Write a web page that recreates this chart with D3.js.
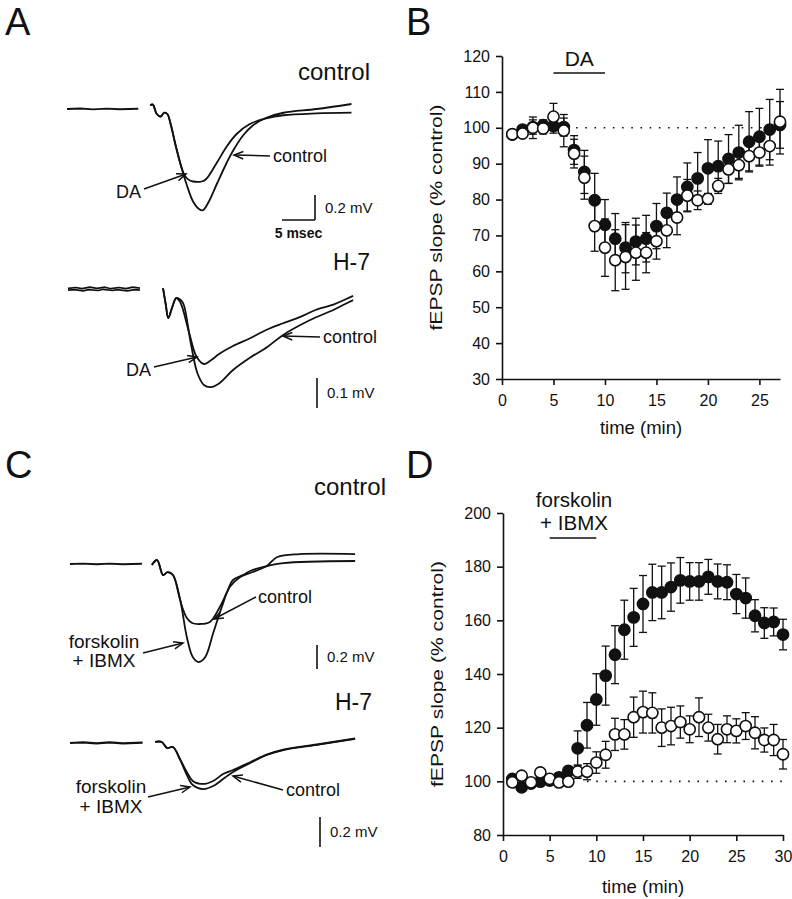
<!DOCTYPE html>
<html><head><meta charset="utf-8">
<script src="https://cdn.jsdelivr.net/npm/d3@7"></script>
<style>
body{margin:0;background:#fff}
svg{display:block}
text{font-family:"Liberation Sans",Arial,Helvetica,sans-serif;fill:#111}
</style>
</head><body>
<svg id="fig" width="792" height="899"></svg>
<script>
// ---------------- DATA ----------------
// Panel B: fEPSP slope (% control) vs time (min), DA applied 5-10 min
const timeB = [1,2,3,4,5,6,7,8,9,10,11,12,13,14,15,16,17,18,19,20,21,22,23,24,25,26,27];
const filledB = [98.1,99.5,100.2,100.7,100.5,100.2,93.8,87.7,79.8,73.0,69.1,66.6,68.3,69.1,72.6,76.3,80.0,83.5,85.9,88.7,89.3,91.3,93.1,96.1,97.5,99.5,100.8];
const filledBErr = [1,1,2,1.5,2,2.5,4,6,7.5,7,7,7,6.5,6.5,6.3,5.5,6.3,6.7,7.2,8,7,6.8,7.6,8.4,7.9,8.4,6.5];
const openB = [98.2,98.4,100.0,99.8,103.1,99.2,92.8,86.1,72.6,66.6,63.1,64.0,65.2,65.2,68.4,71.4,75.0,81.1,79.8,80.2,83.8,88.4,89.6,92.1,93.1,94.9,101.7];
const openBErr = [1,1,3,1.5,3.7,4.5,4,6,7,8,8.5,9,7.7,5.6,5,4.8,4.8,4.5,2.6,1.5,2.1,3.9,3.7,4.1,3.8,5.3,9];
const xTicksB = [0,5,10,15,20,25];
const yTicksB = [30,40,50,60,70,80,90,100,110,120];
const drugB = {label:"DA", from:5, to:10};

// Panel D: forskolin + IBMX applied 5-10 min
const timeD = [1,2,3,4,5,6,7,8,9,10,11,12,13,14,15,16,17,18,19,20,21,22,23,24,25,26,27,28,29,30];
const filledD = [100.9,97.8,99.2,99.9,100.3,101.5,103.9,112.3,120.9,130.5,139.4,147.2,156.5,161.1,166.1,170.4,170.4,172.4,174.9,174.5,174.5,176.2,174.5,174.2,169.8,168.3,161.7,159.0,159.4,154.7];
const filledDErr = [1.5,1.5,1.5,1.5,1.5,1.5,1.5,6.5,8.5,9.6,11,10.8,11,10.8,10.6,10.5,9.8,9,8.5,7,7,6.5,6.5,6.5,7.3,7.5,6,5.7,5.2,5.7];
const openD = [99.6,102.1,99.6,103.3,100.9,99.6,99.9,103.6,103.6,107.0,109.9,117.5,117.5,123.9,125.8,125.5,120.0,120.6,122.1,119.4,123.9,120.0,115.7,119.4,118.8,120.6,118.1,115.4,115.4,110.1];
const openDErr = [1.5,1.5,1.5,1.5,1.5,1.5,1.5,2.5,3,4,5,6,5.5,7.5,7.8,7.5,7,7,6,5,7.2,5,5.5,5,4.5,5,6,4.5,5.8,5.5];
const xTicksD = [0,5,10,15,20,25,30];
const yTicksD = [80,100,120,140,160,180,200];
const drugD = {label:["forskolin","+ IBMX"], from:5, to:10};

// Traces: [time (ms), potential (mV)]
const baseA1 = [[0,0],[2,0.004],[4,-0.003],[6,0.003],[8,-0.002],[10.8,0.002]];
const traceA1Control = [[12.6,0.03],[13.0,0.035],[13.6,-0.04],[14.2,-0.06],[14.7,-0.03],[15.2,-0.04],[15.7,-0.12],[16.5,-0.3],[17.3,-0.46],[18.1,-0.6],[19.1,-0.74],[20.0,-0.8],[20.6,-0.81],[21.4,-0.75],[22.7,-0.6],[24.2,-0.43],[25.2,-0.33],[26.7,-0.21],[28.2,-0.13],[30.2,-0.07],[32.8,-0.03],[37.8,0.0],[43.1,0.04]];
const traceA1DA = [[12.6,0.03],[13.0,0.035],[13.6,-0.04],[14.2,-0.06],[14.7,-0.03],[15.2,-0.04],[15.7,-0.12],[16.5,-0.3],[17.3,-0.46],[17.8,-0.53],[18.4,-0.565],[19.1,-0.58],[20.4,-0.58],[21.1,-0.56],[22.7,-0.43],[24.2,-0.3],[25.7,-0.2],[27.7,-0.12],[30.2,-0.075],[32.8,-0.05],[37.8,-0.035],[43.1,-0.029]];

const baseA2a = [[0,0.002],[1.2,0.005],[2.1,0.001],[3.3,0.006],[4.4,0.002],[5.6,0.006],[6.5,0.001],[7.7,0.005],[8.8,0.001],[9.8,0.006],[10.9,0.003]];
const baseA2b = [[0,-0.004],[1.0,-0.002],[2.3,-0.006],[3.1,-0.002],[4.6,-0.005],[5.3,-0.001],[6.8,-0.005],[7.4,-0.002],[9.0,-0.006],[10.1,-0.002],[10.9,-0.004]];
const traceA2DA = [[14.4,0.003],[14.8,-0.05],[15.2,-0.097],[15.8,-0.06],[16.4,-0.03],[16.9,-0.04],[17.3,-0.06],[18.4,-0.15],[19.5,-0.227],[20.6,-0.25],[21.5,-0.24],[23,-0.215],[25,-0.19],[27.5,-0.165],[30.2,-0.135],[32.5,-0.115],[35.2,-0.093],[37.5,-0.07],[40.2,-0.052],[42,-0.035],[43.2,-0.023]];
const traceA2Control = [[14.4,0.003],[14.8,-0.05],[15.2,-0.097],[15.8,-0.06],[16.4,-0.03],[17.0,-0.035],[17.5,-0.05],[18.6,-0.18],[19.6,-0.28],[20.6,-0.32],[21.6,-0.327],[23,-0.313],[25,-0.27],[27.5,-0.23],[30.2,-0.193],[32.6,-0.153],[35.2,-0.12],[37.5,-0.095],[40.2,-0.07],[42,-0.05],[43.2,-0.037]];

const baseC1 = [[0,0],[2,0.003],[4,-0.002],[6,0.003],[8,-0.002],[10.9,0.002]];
const traceC1Fsk = [[12.4,-0.008],[13.2,0.033],[14.1,-0.092],[14.8,-0.067],[15.6,-0.092],[16.7,-0.3],[17.7,-0.608],[18.6,-0.775],[19.5,-0.817],[20.5,-0.775],[21.7,-0.575],[23.0,-0.358],[24.2,-0.192],[25.8,-0.108],[27.7,-0.067],[29.8,-0.017],[31.4,0.058],[34.8,0.083],[43.2,0.083]];
const traceC1Control = [[12.4,-0.008],[13.2,0.033],[14.1,-0.092],[14.8,-0.067],[15.6,-0.092],[16.5,-0.26],[17.0,-0.358],[17.7,-0.45],[18.5,-0.492],[19.7,-0.5],[21.2,-0.483],[22.7,-0.358],[23.8,-0.233],[24.7,-0.133],[26.2,-0.092],[27.3,-0.058],[29.8,-0.017],[32.3,0.008],[43.2,0.025]];

const baseC2 = [[0,0],[2,0.004],[4,-0.003],[6,0.004],[8,-0.002],[11,0.003]];
const traceC2Fsk = [[12.9,0.007],[13.9,0.007],[14.7,-0.033],[15.6,-0.027],[16.7,-0.113],[17.7,-0.213],[18.6,-0.28],[20.2,-0.307],[21.7,-0.287],[23.2,-0.24],[24.7,-0.193],[27.3,-0.133],[29.8,-0.08],[32.3,-0.047],[37.4,-0.013],[43.2,0.027]];
const traceC2Control = [[12.9,0.007],[13.9,0.007],[14.7,-0.033],[15.6,-0.027],[16.7,-0.11],[17.7,-0.193],[18.6,-0.253],[20.2,-0.273],[21.7,-0.253],[23.2,-0.207],[24.7,-0.18],[27.3,-0.128],[29.8,-0.078],[32.3,-0.045],[37.4,-0.01],[43.2,0.03]];

// ---------------- DRAWING ----------------
const svg = d3.select("#fig");
const INK = "#111";

function panelLetter(t, x, y){
  svg.append("text").attr("x",x).attr("y",y).attr("font-size",38).text(t);
}

function arrow(x1,y1,x2,y2){
  const g = svg.append("g").attr("stroke",INK).attr("stroke-width",1.5).attr("fill","none");
  g.append("line").attr("x1",x1).attr("y1",y1).attr("x2",x2).attr("y2",y2);
  const a = Math.atan2(y1-y2, x1-x2), L = 10, w = 0.38;
  g.append("polyline").attr("points",
    [[x2+L*Math.cos(a+w), y2+L*Math.sin(a+w)],[x2,y2],[x2+L*Math.cos(a-w), y2+L*Math.sin(a-w)]].map(p=>p.join(",")).join(" "));
}

function traceGroup(x0, y0, pxPerMs, pxPerMV, sets){
  const xs = d3.scaleLinear().domain([0,1]).range([x0, x0+pxPerMs]);
  const ys = d3.scaleLinear().domain([0,-1]).range([y0, y0+pxPerMV]);
  const line = d3.line().x(d=>xs(d[0])).y(d=>ys(d[1]));
  sets.forEach(s=>{
    svg.append("path").attr("d", line.curve(s.curve||d3.curveCatmullRom.alpha(0.5))(s.data))
      .attr("fill","none").attr("stroke",INK).attr("stroke-width",s.w||1.8).attr("stroke-linejoin","round");
  });
  return {xs, ys};
}

function vScaleBar(sc, x, yTop, mv, label){
  const h = sc.ys(-mv) - sc.ys(0);
  svg.append("line").attr("x1",x).attr("x2",x).attr("y1",yTop).attr("y2",yTop+h)
    .attr("stroke",INK).attr("stroke-width",1.6);
  svg.append("text").attr("x",x+10).attr("y",yTop+h/2+5).attr("font-size",15).text(label);
  return h;
}

// ---- Panel A ----
panelLetter("A", 5, 35);
svg.append("text").attr("x",370).attr("y",80).attr("font-size",24).attr("text-anchor","end").text("control");
const scA1 = traceGroup(67, 109, 6.6, 125, [
  {data: baseA1, curve: d3.curveLinear},
  {data: traceA1Control},
  {data: traceA1DA}
]);
arrow(270,156,234,155);
svg.append("text").attr("x",273).attr("y",162).attr("font-size",18).text("control");
arrow(144,189,186,174);
svg.append("text").attr("x",141).attr("y",198).attr("font-size",18).attr("text-anchor","end").text("DA");
{
  const h = vScaleBar(scA1, 315, 195, 0.2, "0.2 mV");
  const w = scA1.xs(5) - scA1.xs(0);
  svg.append("line").attr("x1",315-w).attr("x2",315).attr("y1",195+h).attr("y2",195+h).attr("stroke",INK).attr("stroke-width",1.6);
  svg.append("text").attr("x",315-w/2).attr("y",238).attr("font-size",14).attr("font-weight","bold").attr("text-anchor","middle").text("5 msec");
}
svg.append("text").attr("x",370).attr("y",270).attr("font-size",23).attr("text-anchor","end").text("H-7");
const scA2 = traceGroup(68, 289, 6.6, 300, [
  {data: baseA2a, curve: d3.curveLinear, w:1.7},
  {data: baseA2b, curve: d3.curveLinear, w:1.7},
  {data: traceA2DA},
  {data: traceA2Control}
]);
arrow(320,337,283,336);
svg.append("text").attr("x",323).attr("y",343).attr("font-size",18).text("control");
arrow(154,367,197,357);
svg.append("text").attr("x",151).attr("y",376).attr("font-size",18).attr("text-anchor","end").text("DA");
vScaleBar(scA2, 317, 378, 0.1, "0.1 mV");

// ---- Panel C ----
panelLetter("C", 5, 478);
svg.append("text").attr("x",386).attr("y",495).attr("font-size",24).attr("text-anchor","end").text("control");
const scC1 = traceGroup(70, 564, 6.6, 120, [
  {data: baseC1, curve: d3.curveLinear},
  {data: traceC1Fsk},
  {data: traceC1Control}
]);
arrow(256,597,214,619);
svg.append("text").attr("x",258).attr("y",603).attr("font-size",18).text("control");
arrow(143,653,183,643);
svg.append("text").attr("x",104).attr("y",648).attr("font-size",19).attr("text-anchor","middle").text("forskolin");
svg.append("text").attr("x",104).attr("y",667).attr("font-size",19).attr("text-anchor","middle").text("+ IBMX");
vScaleBar(scC1, 317, 645, 0.2, "0.2 mV");

svg.append("text").attr("x",372).attr("y",710).attr("font-size",23).attr("text-anchor","end").text("H-7");
const scC2 = traceGroup(70, 743, 6.6, 150, [
  {data: baseC2, curve: d3.curveLinear, w:2.2},
  {data: traceC2Fsk},
  {data: traceC2Control}
]);
arrow(148,797,190,787);
svg.append("text").attr("x",111).attr("y",793).attr("font-size",19).attr("text-anchor","middle").text("forskolin");
svg.append("text").attr("x",111).attr("y",813).attr("font-size",19).attr("text-anchor","middle").text("+ IBMX");
arrow(283,790,233,776);
svg.append("text").attr("x",286).attr("y",796).attr("font-size",18).text("control");
vScaleBar(scC2, 320, 817, 0.2, "0.2 mV");

// ---- Time-course panels ----
function timeCourse(opt){
  const x = d3.scaleLinear().domain(opt.xDomain).range([opt.left, opt.right]);
  const y = d3.scaleLinear().domain(opt.yDomain).range([opt.bottom, opt.top]);
  const g = svg.append("g");
  const ax = g.append("g").attr("transform",`translate(0,${opt.bottom})`)
    .call(d3.axisBottom(x).tickValues(opt.xTicks).tickSize(6).tickSizeOuter(0).tickPadding(10));
  const ay = g.append("g").attr("transform",`translate(${opt.left},0)`)
    .call(d3.axisLeft(y).tickValues(opt.yTicks).tickSize(6).tickSizeOuter(0).tickPadding(6));
  [ax,ay].forEach(a=>{
    a.selectAll("path,line").attr("stroke",INK).attr("stroke-width",1.6);
    a.selectAll("text").attr("font-size",16).attr("fill",INK).attr("font-family","Liberation Sans, Arial, sans-serif");
  });
  g.append("text").attr("x",(opt.left+opt.right)/2).attr("y",opt.bottom+opt.xLabelDy)
    .attr("text-anchor","middle").attr("font-size",18.5).text("time (min)");
  g.append("text").attr("transform",`translate(${opt.left-60},${(opt.top+opt.bottom)/2}) rotate(-90)`)
    .attr("text-anchor","middle").attr("font-size",17).attr("textLength",226).attr("lengthAdjust","spacingAndGlyphs")
    .text("fEPSP slope (% control)");
  g.append("line").attr("x1",x(opt.dotFrom)).attr("x2",x(opt.xDomain[1])).attr("y1",y(100)).attr("y2",y(100))
    .attr("stroke",INK).attr("stroke-width",1.6).attr("stroke-dasharray","1.6,7.6");
  g.append("line").attr("x1",x(opt.drug.from)).attr("x2",x(opt.drug.to)).attr("y1",opt.drugY).attr("y2",opt.drugY)
    .attr("stroke",INK).attr("stroke-width",1.6);
  const labs = Array.isArray(opt.drug.label)?opt.drug.label:[opt.drug.label];
  labs.forEach((l,i)=>{
    g.append("text").attr("x",opt.drugLabelX!==undefined?opt.drugLabelX:(x(opt.drug.from)+x(opt.drug.to))/2)
      .attr("y",opt.drugLabelY + i*opt.drugLabelStep).attr("text-anchor","middle").attr("font-size",opt.drugFont).text(l);
  });
  const series = [
    {t:opt.time, v:opt.filled, e:opt.filledErr, fill:INK},
    {t:opt.time, v:opt.open, e:opt.openErr, fill:"#fff"}
  ];
  const cap = 4;
  series.forEach(s=>{
    const eg = g.append("g").attr("stroke",INK).attr("stroke-width",1.3);
    s.t.forEach((t,i)=>{
      const cx = x(t), hi = y(s.v[i]+s.e[i]), lo = y(s.v[i]-s.e[i]);
      eg.append("line").attr("x1",cx).attr("x2",cx).attr("y1",hi).attr("y2",lo);
      eg.append("line").attr("x1",cx-cap).attr("x2",cx+cap).attr("y1",hi).attr("y2",hi);
      eg.append("line").attr("x1",cx-cap).attr("x2",cx+cap).attr("y1",lo).attr("y2",lo);
    });
  });
  series.forEach(s=>{
    g.append("g").selectAll("circle").data(s.t.map((t,i)=>[t,s.v[i]])).join("circle")
      .attr("cx",d=>x(d[0])).attr("cy",d=>y(d[1])).attr("r",5.6)
      .attr("fill",s.fill).attr("stroke",INK).attr("stroke-width",1.6);
  });
}

panelLetter("B", 406, 35);
timeCourse({xDomain:[0,27], yDomain:[30,120], left:502, right:780, top:56, bottom:379,
  xTicks:xTicksB, yTicks:yTicksB, xLabelDy:55, dotFrom:6.3,
  drug:drugB, drugY:73, drugLabelY:66, drugLabelStep:0, drugFont:21,
  time:timeB, filled:filledB, filledErr:filledBErr, open:openB, openErr:openBErr});

panelLetter("D", 406, 478);
timeCourse({xDomain:[0,30], yDomain:[80,200], left:503, right:783, top:513, bottom:835,
  xTicks:xTicksD, yTicks:yTicksD, xLabelDy:58, dotFrom:9,
  drug:drugD, drugY:538, drugLabelX:574, drugLabelY:507, drugLabelStep:23, drugFont:20.5,
  time:timeD, filled:filledD, filledErr:filledDErr, open:openD, openErr:openDErr});
</script>
</body></html>
